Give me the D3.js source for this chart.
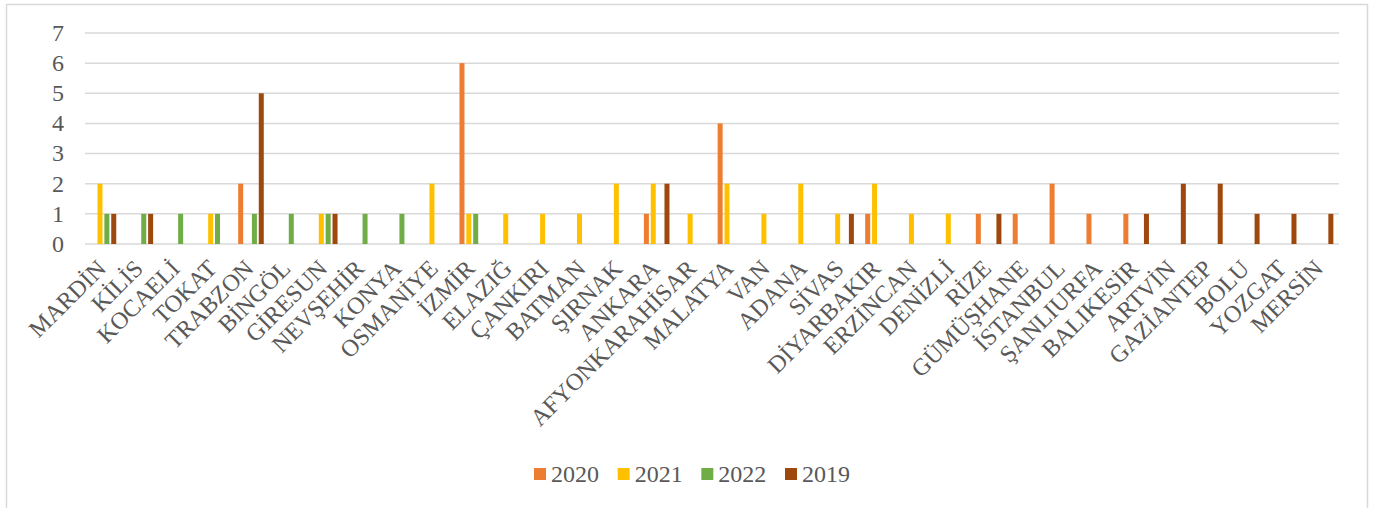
<!DOCTYPE html>
<html>
<head>
<meta charset="utf-8">
<script src="https://cdn.jsdelivr.net/npm/d3@7"></script>
<style>
  html, body { margin: 0; padding: 0; background: #fff; }
  svg { display: block; }
  text { font-family: "Liberation Serif", "Times New Roman", serif; fill: #595959; }
</style>
</head>
<body>
<svg id="chart" width="1373" height="508" font-family="Liberation Serif, serif"></svg>
<script>
// ---- data ----
const categories = ["MARDİN","KİLİS","KOCAELİ","TOKAT","TRABZON","BİNGÖL","GİRESUN","NEVŞEHİR","KONYA","OSMANİYE",
  "İZMİR","ELAZIĞ","ÇANKIRI","BATMAN","ŞIRNAK","ANKARA","AFYONKARAHİSAR","MALATYA","VAN","ADANA",
  "SİVAS","DİYARBAKIR","ERZİNCAN","DENİZLİ","RİZE","GÜMÜŞHANE","İSTANBUL","ŞANLIURFA","BALIKESİR","ARTVİN",
  "GAZİANTEP","BOLU","YOZGAT","MERSİN"];
const seriesNames = ["2020","2021","2022","2019"];
const values2020 = [0,0,0,0,2,0,0,0,0,0, 6,0,0,0,0,1,0,4,0,0, 0,1,0,0,1,1,2,1,1,0, 0,0,0,0];
const values2021 = [2,0,0,1,0,0,1,0,0,2, 1,1,1,1,2,2,1,2,1,2, 1,2,1,1,0,0,0,0,0,0, 0,0,0,0];
const values2022 = [1,1,1,1,1,1,1,1,1,0, 1,0,0,0,0,0,0,0,0,0, 0,0,0,0,0,0,0,0,0,0, 0,0,0,0];
const values2019 = [1,1,0,0,5,0,1,0,0,0, 0,0,0,0,0,2,0,0,0,0, 1,0,0,0,1,0,0,0,1,2, 2,1,1,1];
const yTicks = [0,1,2,3,4,5,6,7];
const colors = ["#ED7D31","#FFC000","#70AD47","#9E480E"];

const seriesValues = [values2020, values2021, values2022, values2019];

// ---- layout ----
const svg = d3.select("#chart");
const plot = {left: 85, right: 1339, top: 33, bottom: 244};
const FS = 24;

// chart border
svg.append("rect").attr("x", 6.5).attr("y", 4.5).attr("width", 1361).attr("height", 510)
  .attr("fill", "none").attr("stroke", "#D9D9D9").attr("stroke-width", 1.5);

const x0 = d3.scaleBand().domain(categories).range([plot.left, plot.right]).paddingInner(0).paddingOuter(0);
const groupW = 25.6;
const x1 = d3.scaleBand().domain(seriesNames).range([0, groupW]).paddingInner(0.27).paddingOuter(0);
const y = d3.scaleLinear().domain([0, 7]).range([plot.bottom, plot.top]);

// gridlines
svg.append("g").selectAll("line").data(yTicks).join("line")
  .attr("x1", plot.left).attr("x2", plot.right)
  .attr("y1", d => y(d)).attr("y2", d => y(d))
  .attr("stroke", "#D9D9D9").attr("stroke-width", 1.5);

// y tick labels
svg.append("g").selectAll("text").data(yTicks).join("text")
  .attr("x", 64).attr("y", d => y(d)).attr("dy", "0.33em")
  .attr("text-anchor", "end").attr("font-size", FS)
  .text(d => d);

// bars
const off = (x0.bandwidth() - groupW) / 2;
const groups = svg.append("g").selectAll("g").data(categories).join("g")
  .attr("transform", d => `translate(${x0(d) + off},0)`);
groups.selectAll("rect")
  .data((c, i) => seriesNames.map((s, k) => ({s, k, v: seriesValues[k][i]})).filter(d => d.v > 0))
  .join("rect")
  .attr("x", d => x1(d.s)).attr("width", x1.bandwidth())
  .attr("y", d => y(d.v)).attr("height", d => y(0) - y(d.v))
  .attr("fill", d => colors[d.k]);

// category labels
svg.append("g").selectAll("text").data(categories).join("text")
  .attr("text-anchor", "end").attr("font-size", FS)
  .attr("transform", d => `translate(${x0(d) + x0.bandwidth() / 2 + 4},270) rotate(-45)`)
  .text(d => d);

// legend
const legend = svg.append("g");
const legX = d3.scalePoint().domain(seriesNames).range([534, 785]);
const li = legend.selectAll("g").data(seriesNames).join("g")
  .attr("transform", d => `translate(${legX(d)},468)`);
li.append("rect").attr("width", 12).attr("height", 12).attr("fill", (d, i) => colors[i]);
li.append("text").attr("x", 17).attr("y", 14).attr("font-size", FS).text(d => d);
</script>
</body>
</html>
